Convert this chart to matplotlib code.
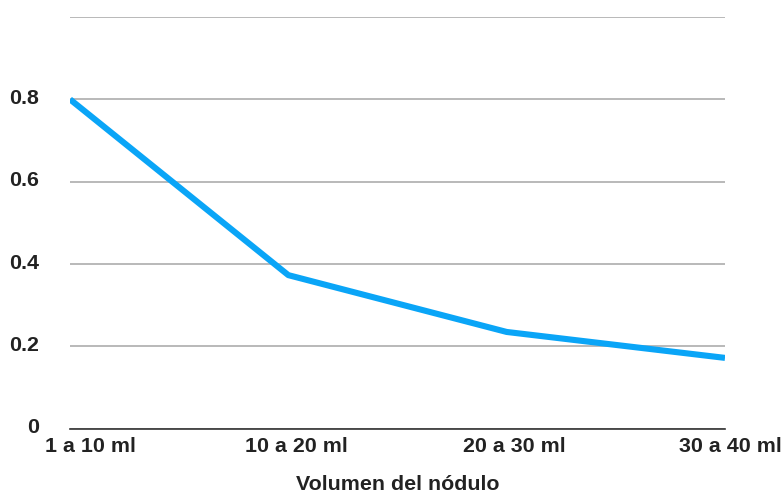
import matplotlib
matplotlib.use("Agg")
import matplotlib.pyplot as plt
from matplotlib.transforms import ScaledTranslation

categories = ["1 a 10 ml", "10 a 20 ml", "20 a 30 ml", "30 a 40 ml"]
values = [0.80, 0.373, 0.235, 0.172]
yticks = [0, 0.2, 0.4, 0.6, 0.8, 1.0]
ytick_labels = ["0", "0.2", "0.4", "0.6", "0.8", ""]
xlabel = "Volumen del nódulo"

plt.rcParams['font.family'] = ['Liberation Sans', 'DejaVu Sans']

fig = plt.figure(figsize=(7.82, 4.95), dpi=100)
W, H = 782, 495
left, right, top, bottom = 70, 725, 17, 428.7
ax = fig.add_axes([left / W, (H - bottom) / H, (right - left) / W, (bottom - top) / H])

x = list(range(len(categories)))
ax.plot(x, values, color="#0aa5f7", linewidth=4.4, solid_joinstyle="round", solid_capstyle="butt", zorder=3)

ax.set_xlim(0, len(categories) - 1)
ax.set_ylim(0, 1.0)
ax.set_yticks(yticks)
ax.set_yticklabels(ytick_labels)
ax.set_xticks(x)
ax.set_xticklabels(categories)

for s in ["top", "right", "left"]:
    ax.spines[s].set_visible(False)
ax.spines["bottom"].set_color("#333333")
ax.spines["bottom"].set_linewidth(1.2)
ax.spines["bottom"].set_zorder(2)

ax.grid(axis="y", color="#b3b3b3", linewidth=1.3, zorder=0)
ax.set_axisbelow(True)
ax.tick_params(axis="both", length=0, labelsize=15.4, labelcolor="#222222")
ax.tick_params(axis="y", pad=22)
ax.tick_params(axis="x", pad=6)
for lab in ax.get_yticklabels() + ax.get_xticklabels():
    lab.set_fontweight("bold")

offsets_px = [20, 8, 8, 5]
for lab, dx in zip(ax.get_xticklabels(), offsets_px):
    lab.set_transform(lab.get_transform() + ScaledTranslation(dx / 100, 0, fig.dpi_scale_trans))
for lab in ax.get_yticklabels():
    lab.set_transform(lab.get_transform() + ScaledTranslation(0, 3 / 100, fig.dpi_scale_trans))

ax.set_xlabel(xlabel, fontsize=15.4, fontweight="bold", color="#222222", labelpad=13.5)

fig.savefig("out.png", dpi=100, facecolor="white")
